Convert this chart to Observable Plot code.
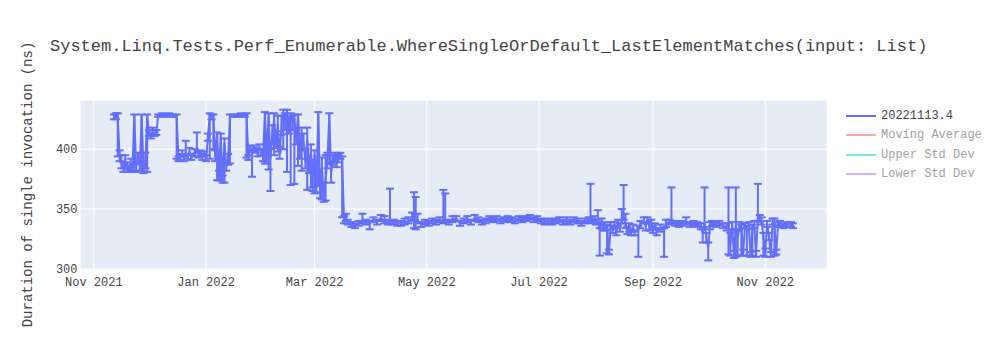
<!DOCTYPE html>
<html>
<head>
<meta charset="utf-8">
<script src="https://cdn.jsdelivr.net/npm/d3@7"></script>
<script src="https://cdn.jsdelivr.net/npm/@observablehq/plot@0.6"></script>
<style>
  html, body { margin: 0; padding: 0; background: #fff; }
  #wrap { position: relative; width: 1000px; height: 350px; font-family: "Liberation Mono", "Courier New", monospace; color: #444; }
  #title { position: absolute; left: 50px; top: 38px; font-size: 17px; line-height: 17px; white-space: nowrap; color: #444; }
  .leg { position: absolute; left: 846px; height: 14px; font-size: 12px; line-height: 14px; white-space: nowrap; display: flex; align-items: center; color: #444; }
  .leg svg { margin-right: 5px; }
</style>
</head>
<body>
<div id="wrap"><div id="chart"></div></div>
<script>
const title = "System.Linq.Tests.Perf_Enumerable.WhereSingleOrDefault_LastElementMatches(input: List)";
const yLabel = "Duration of single invocation (ns)";

const dates = [
  "2021-11-12","2021-11-13","2021-11-14","2021-11-15","2021-11-16","2021-11-17","2021-11-18","2021-11-19","2021-11-20","2021-11-21",
  "2021-11-22","2021-11-23","2021-11-24","2021-11-25","2021-11-26","2021-11-27","2021-11-28","2021-11-29","2021-11-30","2021-12-01",
  "2021-12-02","2021-12-03","2021-12-04","2021-12-05","2021-12-06","2021-12-08","2021-12-10","2021-12-12","2021-12-14","2021-12-16",
  "2021-12-17","2021-12-18","2021-12-19","2021-12-20","2021-12-21","2021-12-22","2021-12-23","2021-12-24","2021-12-26","2021-12-27",
  "2021-12-28","2021-12-29","2021-12-30","2021-12-31","2022-01-01","2022-01-02","2022-01-03","2022-01-04","2022-01-05","2022-01-06",
  "2022-01-07","2022-01-08","2022-01-09","2022-01-10","2022-01-11","2022-01-12","2022-01-13","2022-01-14","2022-01-16","2022-01-18",
  "2022-01-20","2022-01-22","2022-01-23","2022-01-24","2022-01-25","2022-01-26","2022-01-27","2022-01-28","2022-01-29","2022-01-30",
  "2022-01-31","2022-02-01","2022-02-02","2022-02-03","2022-02-04","2022-02-05","2022-02-06","2022-02-07","2022-02-08","2022-02-09",
  "2022-02-10","2022-02-11","2022-02-12","2022-02-13","2022-02-14","2022-02-15","2022-02-16","2022-02-17","2022-02-18","2022-02-19",
  "2022-02-20","2022-02-21","2022-02-22","2022-02-23","2022-02-24","2022-02-25","2022-02-26","2022-02-27","2022-02-28","2022-03-01",
  "2022-03-02","2022-03-03","2022-03-04","2022-03-05","2022-03-06","2022-03-07","2022-03-08","2022-03-09","2022-03-10","2022-03-11",
  "2022-03-12","2022-03-13","2022-03-14","2022-03-15","2022-03-16","2022-03-17","2022-03-18","2022-03-19","2022-03-21","2022-03-23",
  "2022-03-25","2022-03-27","2022-03-29","2022-03-31","2022-04-02","2022-04-04","2022-04-06","2022-04-08","2022-04-10","2022-04-11",
  "2022-04-13","2022-04-15","2022-04-17","2022-04-19","2022-04-21","2022-04-23","2022-04-24","2022-04-25","2022-04-26","2022-04-28",
  "2022-04-30","2022-05-02","2022-05-04","2022-05-06","2022-05-08","2022-05-10","2022-05-11","2022-05-13","2022-05-15","2022-05-17",
  "2022-05-19","2022-05-21","2022-05-23","2022-05-25","2022-05-27","2022-05-29","2022-05-31","2022-06-02","2022-06-04","2022-06-06",
  "2022-06-08","2022-06-10","2022-06-12","2022-06-14","2022-06-16","2022-06-18","2022-06-20","2022-06-22","2022-06-24","2022-06-26",
  "2022-06-28","2022-06-30","2022-07-02","2022-07-04","2022-07-06","2022-07-08","2022-07-10","2022-07-12","2022-07-14","2022-07-16",
  "2022-07-18","2022-07-20","2022-07-22","2022-07-24","2022-07-26","2022-07-28","2022-07-29","2022-07-30","2022-07-31","2022-08-01",
  "2022-08-02","2022-08-03","2022-08-04","2022-08-05","2022-08-06","2022-08-07","2022-08-08","2022-08-09","2022-08-10","2022-08-11",
  "2022-08-12","2022-08-13","2022-08-14","2022-08-15","2022-08-16","2022-08-17","2022-08-18","2022-08-19","2022-08-20","2022-08-21",
  "2022-08-22","2022-08-24","2022-08-25","2022-08-27","2022-08-28","2022-08-29","2022-08-30","2022-08-31","2022-09-01","2022-09-02",
  "2022-09-03","2022-09-05","2022-09-07","2022-09-08","2022-09-10","2022-09-11","2022-09-13","2022-09-15","2022-09-17","2022-09-19",
  "2022-09-21","2022-09-23","2022-09-25","2022-09-27","2022-09-28","2022-09-29","2022-09-30","2022-10-01","2022-10-02","2022-10-03",
  "2022-10-05","2022-10-07","2022-10-09","2022-10-11","2022-10-12","2022-10-13","2022-10-14","2022-10-15","2022-10-16","2022-10-17",
  "2022-10-18","2022-10-19","2022-10-20","2022-10-21","2022-10-22","2022-10-23","2022-10-24","2022-10-25","2022-10-26","2022-10-27",
  "2022-10-28","2022-10-29","2022-10-30","2022-10-31","2022-11-01","2022-11-02","2022-11-03","2022-11-04","2022-11-05","2022-11-06",
  "2022-11-07","2022-11-08","2022-11-09","2022-11-11","2022-11-13","2022-11-15","2022-11-16"
];

const values = [
  427,428,427,394,389,385,391,386,383,388,
  384,428,385,391,386,428,383,388,428,413,
  411,415,412,414,428,429,428,429,428,428,
  392,393,396,392,397,394,398,393,396,400,
  395,397,394,396,392,410,428,427,428,395,
  412,378,410,375,405,386,392,428,428,428,
  429,428,429,393,400,398,401,399,397,402,
  398,396,430,395,428,392,412,425,405,420,
  396,418,430,424,431,418,428,422,426,410,
  428,400,412,405,390,408,385,398,380,395,
  370,429,365,385,362,375,392,428,380,391,
  394,389,393,395,391,341,343,339,337,336,
  338,340,339,338,341,339,342,340,339,340,
  339,338,338,339,340,342,343,340,341,337,
  339,338,340,339,341,340,341,339,341,342,
  338,340,341,339,342,341,339,340,342,341,
  342,340,341,342,341,340,342,341,342,343,
  341,342,340,339,340,339,340,341,339,340,
  339,341,340,338,340,341,342,340,341,339,
  341,332,340,336,334,335,314,336,333,337,
  331,338,335,341,343,338,332,336,330,334,
  330,333,337,340,336,341,335,339,333,336,
  331,334,332,338,339,340,338,337,338,339,
  337,338,337,336,330,339,325,318,336,338,
  337,338,336,335,338,320,336,312,337,326,
  336,335,313,336,334,336,312,335,337,312,
  344,342,340,326,313,338,327,312,339,336,
  314,337,338,336,337,337,336
];

const errPlus = [
  2,2,3,5,6,4,4,3,3,4,
  3,1,4,6,3,1,3,9,1,3,
  2,3,2,2,1,1,1,1,1,1,
  2,3,3,2,10,2,3,2,4,14,
  3,2,2,2,3,3,2,2,1,4,
  2,4,3,3,4,3,4,1,1,1,
  1,1,1,2,3,2,2,2,3,2,
  2,3,1,5,2,8,8,5,10,8,
  6,10,3,6,2,8,2,6,3,6,
  1,5,6,8,10,10,6,6,8,4,
  8,2,8,8,10,20,5,2,8,4,
  3,6,3,2,3,3,3,2,2,2,
  2,6,2,2,2,2,3,4,2,27,
  2,2,2,3,3,5,21,20,5,2,
  2,2,2,2,2,26,22,2,3,2,
  2,2,3,2,3,2,2,2,2,2,
  2,2,2,2,2,2,2,2,2,2,
  2,2,2,2,2,2,2,2,2,3,
  2,2,2,2,2,2,29,2,3,2,
  8,2,2,3,2,2,2,3,3,2,
  3,3,3,9,27,8,3,2,3,3,
  2,3,3,3,2,2,3,2,3,2,
  3,3,2,3,2,28,2,2,2,4,
  2,2,2,2,3,29,5,4,3,2,
  2,2,2,3,30,10,3,3,31,6,
  3,2,3,2,2,3,2,2,3,3,
  27,3,3,4,4,2,3,2,3,6,
  2,2,2,2,2,2,2
];

const errMinus = [
  2,3,33,4,5,4,6,3,2,6,
  3,47,4,3,4,46,3,4,47,2,
  2,2,1,2,1,1,1,1,1,36,
  2,2,2,2,2,2,2,2,2,3,
  2,3,3,2,2,3,36,2,28,5,
  38,4,36,3,33,4,5,40,1,1,
  1,1,36,2,2,21,3,2,3,2,
  3,6,42,7,45,27,8,30,4,22,
  4,6,30,8,50,5,58,6,55,6,
  42,8,30,6,6,42,5,30,15,32,
  6,60,6,27,6,18,8,40,8,4,
  4,4,4,3,48,3,3,2,2,2,
  2,2,2,5,2,2,2,2,2,2,
  2,2,2,2,2,2,9,7,3,2,
  2,2,2,2,2,2,2,2,2,2,
  2,2,2,2,2,2,2,2,2,2,
  2,2,2,2,2,2,2,2,2,2,
  2,2,2,2,2,2,2,2,2,2,
  2,2,2,2,2,2,3,2,2,2,
  2,21,2,4,2,22,2,3,3,3,
  3,2,4,3,2,4,3,5,2,3,
  2,23,3,2,4,2,3,6,3,3,
  3,3,22,3,2,2,2,2,2,2,
  2,2,2,3,8,4,3,11,3,2,
  2,2,2,3,26,9,3,3,27,15,
  3,24,2,2,23,3,2,24,3,2,
  4,3,3,15,3,3,3,2,2,25,
  2,2,2,2,2,2,2
];

const xTicks = ["2021-11-01","2022-01-01","2022-03-01","2022-05-01","2022-07-01","2022-09-01","2022-11-01"];
const yTicks = [300, 350, 400];
const xDomain = ["2021-10-24T18:00Z", "2022-12-04T07:00Z"];
const yDomain = [299.4, 440.7];

const legendLabels = ["20221113.4", "Moving Average", "Upper Std Dev", "Lower Std Dev"];
const legendColors = ["#636efa", "#EF553B", "#00cc96", "#ab63fa"];
const legendShown = [true, false, false, false];

const mainColor = legendColors[0];
const font = "'Liberation Mono', 'Courier New', monospace";

if (!(dates.length === values.length && values.length === errPlus.length && errPlus.length === errMinus.length)) {
  console.error("length mismatch", dates.length, values.length, errPlus.length, errMinus.length);
}

const data = dates.map((d, i) => ({
  date: new Date(d + "T00:00Z"),
  v: values[i],
  hi: values[i] + errPlus[i],
  lo: values[i] - errMinus[i]
}));

const capSymbol = {
  draw(context) {
    context.moveTo(-4, 0);
    context.lineTo(4, 0);
  }
};

const xTickDates = xTicks.map(d => new Date(d + "T00:00Z"));

const chart = Plot.plot({
  width: 1000,
  height: 350,
  marginTop: 100,
  marginBottom: 81,
  marginLeft: 80,
  marginRight: 174,
  style: { fontFamily: font, fontSize: "12px", color: "#444", background: "transparent", overflow: "visible" },
  x: {
    type: "utc",
    domain: xDomain.map(d => new Date(d)),
    ticks: xTickDates,
    tickFormat: d3.utcFormat("%b %Y"),
    tickSize: 0,
    tickPadding: 8,
    label: null
  },
  y: {
    domain: yDomain,
    ticks: yTicks,
    tickSize: 0,
    tickPadding: 3,
    label: null
  },
  marks: [
    Plot.frame({ fill: "#e5ecf6", stroke: null }),
    Plot.ruleX(xTickDates, { x: d => d, stroke: "#ffffff", strokeWidth: 1 }),
    Plot.ruleY(yTicks, { y: d => d, stroke: "#ffffff", strokeWidth: 1 }),
    Plot.ruleX(data, { x: "date", y1: "lo", y2: "hi", stroke: mainColor, strokeWidth: 2 }),
    Plot.dot(data, { x: "date", y: "hi", symbol: capSymbol, stroke: mainColor, strokeWidth: 2, fill: "none" }),
    Plot.dot(data, { x: "date", y: "lo", symbol: capSymbol, stroke: mainColor, strokeWidth: 2, fill: "none" }),
    Plot.line(data, { x: "date", y: "v", stroke: mainColor, strokeWidth: 2 })
  ]
});

chart.style.position = "absolute";
chart.style.left = "0px";
chart.style.top = "0px";
document.getElementById("chart").appendChild(chart);

// y axis title
d3.select(chart).append("text")
  .attr("transform", "translate(32,184.5) rotate(-90)")
  .attr("text-anchor", "middle")
  .attr("fill", "#444")
  .style("font-family", font)
  .style("font-size", "14px")
  .text(yLabel);

const wrap = document.getElementById("wrap");
const t = document.createElement("div");
t.id = "title";
t.textContent = title;
wrap.appendChild(t);

legendLabels.forEach((lab, i) => {
  const row = document.createElement("div");
  row.className = "leg";
  row.style.top = (109 + i * 19.4) + "px";
  row.style.opacity = legendShown[i] ? "1" : "0.5";
  row.innerHTML = `<svg width="30" height="14"><line x1="0" x2="30" y1="7" y2="7" stroke="${legendColors[i]}" stroke-width="2"/></svg><span></span>`;
  row.querySelector("span").textContent = lab;
  wrap.appendChild(row);
});
</script>
</body>
</html>
